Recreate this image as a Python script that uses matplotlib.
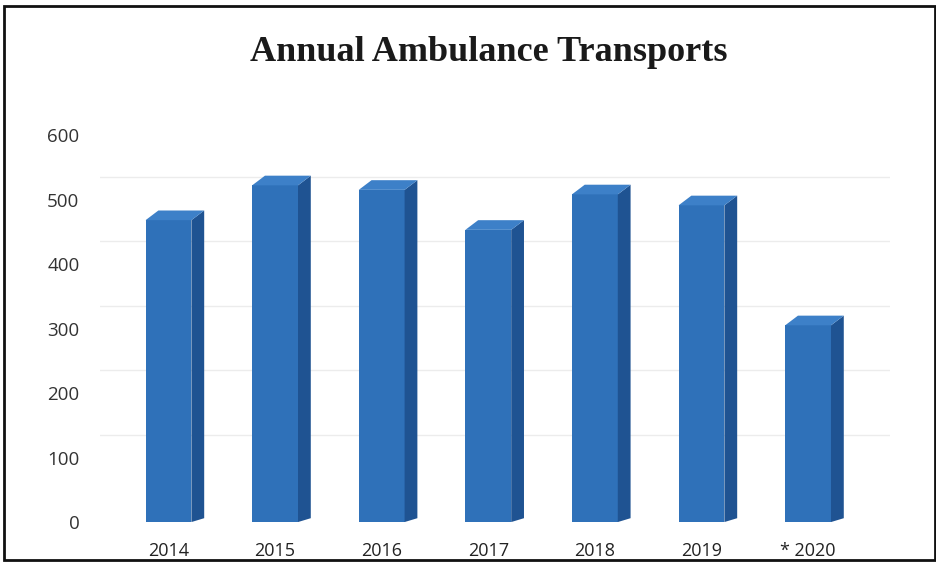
import matplotlib.pyplot as plt
from matplotlib.patches import Polygon, Rectangle

# Data
years = ["2014", "2015", "2016", "2017", "2018", "2019", "* 2020"]
transports = [468, 522, 515, 453, 508, 491, 305]
y_ticks = [0, 100, 200, 300, 400, 500, 600]

# Colours of the 3D-looking bars
front_color = "#2f71b9"
side_color = "#1f5392"
top_color = "#3d80c8"

bar_width = 0.43
depth_x = 0.12   # horizontal depth in category units
depth_y = 15     # vertical depth in data units

fig = plt.figure(figsize=(9.37, 5.65), dpi=100)
fig.patch.set_facecolor("white")
ax = fig.add_axes([0.107, 0.076, 0.843, 0.685])

xs = list(range(len(years)))
ax.bar(xs, transports, width=bar_width, color=front_color, zorder=3)

# Side and top faces for the pseudo-3D look
for x, h in zip(xs, transports):
    right = x + bar_width / 2
    left = x - bar_width / 2
    side = Polygon([(right, 0), (right + depth_x, depth_y * 0.4),
                    (right + depth_x, h + depth_y), (right, h)],
                   closed=True, facecolor=side_color, edgecolor="none", zorder=3)
    top = Polygon([(left, h), (right, h), (right + depth_x, h + depth_y),
                   (left + depth_x, h + depth_y)],
                  closed=True, facecolor=top_color, edgecolor="none", zorder=3)
    ax.add_patch(side)
    ax.add_patch(top)

ax.set_xlim(-0.64, 6.77)
ax.set_ylim(0, 600)
ax.set_yticks(y_ticks)
ax.set_yticklabels([str(v) for v in y_ticks], fontsize=13.5, color="#333333",
                   family="Open Sans")
ax.set_xticks(xs)
ax.set_xticklabels(years, fontsize=13, color="#222222", family="Open Sans")
ax.tick_params(axis="y", length=0, pad=15)
ax.tick_params(axis="x", length=0, pad=14)

# faint back-wall gridlines
for v in y_ticks[1:]:
    ax.axhline(v + 35, color="#ececec", lw=1, zorder=1)

for s in ax.spines.values():
    s.set_visible(False)

fig.text(0.522, 0.907, "Annual Ambulance Transports", ha="center", va="center",
         fontsize=26, fontweight="bold", family="Liberation Serif", color="#1a1a1a")

# scanned frame around the chart
fig.patches.append(Rectangle((0.004, 0.008), 0.994, 0.982, transform=fig.transFigure,
                             fill=False, edgecolor="#111111", lw=2))

fig.savefig("out.png", dpi=100)
